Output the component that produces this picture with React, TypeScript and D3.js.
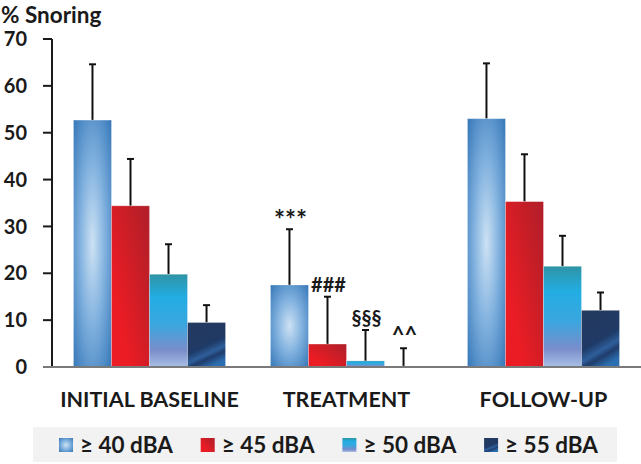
import React from "react";
import * as d3 from "d3";

const categories = ["INITIAL BASELINE", "TREATMENT", "FOLLOW-UP"];
const seriesNames = ["≥ 40 dBA", "≥ 45 dBA", "≥ 50 dBA", "≥ 55 dBA"];
const values40 = [52.7, 17.5, 53.0];
const values45 = [34.4, 4.9, 35.3];
const values50 = [19.8, 1.3, 21.5];
const values55 = [9.5, 0.2, 12.1];
const err40 = [64.6, 29.4, 64.8];
const err45 = [44.4, 15.0, 45.4];
const err50 = [26.2, 7.9, 28.0];
const err55 = [13.2, 4.0, 15.9];
const treatmentMarks = ["***", "###", "§§§", "^^"];
const yTicks = [0, 10, 20, 30, 40, 50, 60, 70];

const seriesValues = [values40, values45, values50, values55];
const seriesErr = [err40, err45, err50, err55];
const fills = ["url(#g40)", "url(#g45)", "url(#g50)", "url(#g55)"];
const markSizes = [26, 20, 20, 22];

const FONT = "Lato, 'Open Sans', sans-serif";

export default function App() {
  const W = 641;
  const H = 464;
  const y = d3.scaleLinear().domain([0, 70]).range([367, 39]);
  const x0 = d3
    .scaleBand<string>()
    .domain(categories)
    .range([52, 641])
    .paddingInner(0.228)
    .paddingOuter(0.109);
  const x1 = d3
    .scaleBand<string>()
    .domain(seriesNames)
    .range([0, x0.bandwidth()])
    .padding(0);

  return (
    <svg
      width={W}
      height={H}
      style={{ position: "absolute", left: 0, top: 0, background: "#fff" }}
      fontFamily={FONT}
    >
      <defs>
        <radialGradient id="g40" cx="0.5" cy="0.5" r="0.75">
          <stop offset="0" stopColor="#cde2f4" />
          <stop offset="0.45" stopColor="#7fb0de" />
          <stop offset="1" stopColor="#2c70b3" />
        </radialGradient>
        <linearGradient id="g45" x1="1" y1="0" x2="0.2" y2="0.7">
          <stop offset="0" stopColor="#b01e2a" />
          <stop offset="0.35" stopColor="#c21e27" />
          <stop offset="1" stopColor="#ec1c24" />
        </linearGradient>
        <linearGradient id="g50" x1="0" y1="0" x2="0" y2="1">
          <stop offset="0" stopColor="#2f94a5" />
          <stop offset="0.25" stopColor="#22ade3" />
          <stop offset="0.55" stopColor="#3ba6df" />
          <stop offset="0.82" stopColor="#7a8dcb" />
          <stop offset="1" stopColor="#a9c0e5" />
        </linearGradient>
        <linearGradient id="g55" x1="0.2" y1="0" x2="0.6" y2="1">
          <stop offset="0" stopColor="#243a5f" />
          <stop offset="0.55" stopColor="#1f3a66" />
          <stop offset="0.72" stopColor="#2e5f9c" />
          <stop offset="0.82" stopColor="#1f3c6b" />
          <stop offset="1" stopColor="#2b6fb2" />
        </linearGradient>
      </defs>

      {/* title */}
      <text x={1} y={22.5} fontSize={22.5} fontWeight={700} fill="#1a1a1a">
        % Snoring
      </text>

      {/* y axis */}
      <line x1={52} x2={52} y1={y(70)} y2={y(0)} stroke="#1a1a1a" strokeWidth={2} />
      {yTicks.map((t) => (
        <g key={t}>
          <line x1={43} x2={52} y1={y(t)} y2={y(t)} stroke="#1a1a1a" strokeWidth={2} />
          <text
            x={27}
            y={y(t)}
            dy="0.36em"
            textAnchor="end"
            fontSize={20}
            fontWeight={700}
            fill="#1a1a1a"
          >
            {t}
          </text>
        </g>
      ))}

      {/* bars */}
      {categories.map((c, ci) => (
        <g key={c} transform={`translate(${x0(c)},0)`}>
          {seriesNames.map((s, si) => {
            const v = seriesValues[si][ci];
            const e = seriesErr[si][ci];
            const bx = x1(s)!;
            const bw = x1.bandwidth();
            const cx = bx + bw / 2;
            return (
              <g key={s}>
                <line x1={cx} x2={cx} y1={y(v)} y2={y(e)} stroke="#111" strokeWidth={2} />
                <line x1={cx - 3.5} x2={cx + 3.5} y1={y(e)} y2={y(e)} stroke="#111" strokeWidth={2} />
                <rect
                  x={bx}
                  y={y(v)}
                  width={bw}
                  height={y(0) - y(v)}
                  fill={fills[si]}
                  stroke="rgba(255,255,255,0.35)"
                  strokeWidth={0.8}
                />
                {ci === 1 && (
                  <text
                    x={cx + 1}
                    y={y(e) - (si === 0 ? 0 : 5)}
                    textAnchor="middle"
                    fontSize={markSizes[si]}
                    fontWeight={700}
                    fill="#1a1a1a"
                  >
                    {treatmentMarks[si]}
                  </text>
                )}
              </g>
            );
          })}
        </g>
      ))}

      {/* x axis */}
      <line x1={43} x2={641} y1={y(0)} y2={y(0)} stroke="#7a7a7a" strokeWidth={2} />

      {/* category labels */}
      {categories.map((c) => (
        <text
          key={c}
          x={x0(c)! + x0.bandwidth() / 2}
          y={407}
          textAnchor="middle"
          fontSize={21.5}
          fontWeight={700}
          fill="#1a1a1a"
        >
          {c}
        </text>
      ))}

      {/* legend */}
      <rect x={33} y={427} width={584} height={35} fill="#f2f2f2" />
      {seriesNames.map((s, si) => {
        const lx = 59 + si * 141.7;
        return (
          <g key={s}>
            <rect x={lx} y={438} width={14} height={14} fill={fills[si]} />
            <text x={lx + 21} y={453} fontSize={22.5} fontWeight={700} fill="#1a1a1a">
              {s}
            </text>
          </g>
        );
      })}
    </svg>
  );
}
